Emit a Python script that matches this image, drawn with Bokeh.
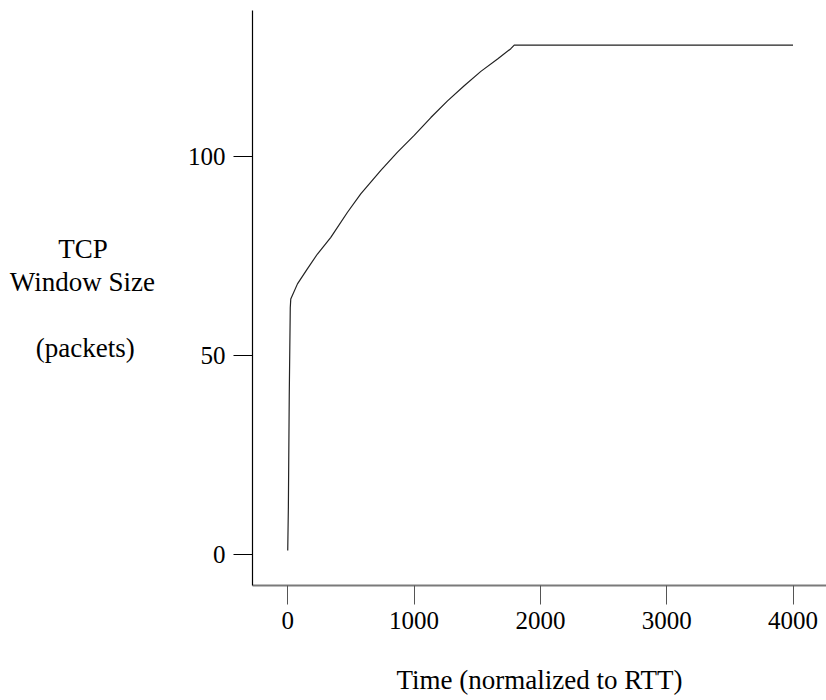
from bokeh.plotting import figure
from bokeh.models import Range1d, FixedTicker
from bokeh.embed import file_html
from bokeh.resources import INLINE

# Data
time_rtt = [0, 5, 12, 20, 24, 77, 150, 235, 341, 473, 578, 737, 869, 1001,
            1133, 1265, 1397, 1529, 1661, 1766, 1793, 4000]
window_pkts = [1, 12, 40, 62, 64.2, 68.0, 71.5, 75.5, 79.7, 86.0, 90.6, 96.5,
               101.1, 105.3, 109.8, 114.0, 117.8, 121.4, 124.5, 127.1, 128, 128]
x_ticks = [0, 1000, 2000, 3000, 4000]
y_ticks = [0, 50, 100]
NB = "\u00a0"
# lines padded with no-break spaces so they read centred under each other
y_label = "TCP" + NB * 7 + "\nWindow Size\n" + NB + "\n(packets)" + NB * 3
x_label = "Time (normalized to RTT)"

FONT = "Liberation Serif"
FS = "25px"
TFS = "27px"

p = figure(width=826, height=700, output_backend="svg", toolbar_location=None,
           x_range=Range1d(-279, 4265), y_range=Range1d(-7.8, 136.7),
           min_border_left=252, min_border_right=0, min_border_top=10,
           min_border_bottom=115)
p.outline_line_color = None
p.xgrid.visible = False
p.ygrid.visible = False
p.background_fill_color = "white"
p.border_fill_color = "white"

p.line(time_rtt, window_pkts, line_color="#222222", line_width=1.2)

# x axis
xa = p.xaxis[0]
xa.ticker = FixedTicker(ticks=x_ticks)
xa.minor_tick_line_color = None
xa.major_tick_in = 0
xa.major_tick_out = 19
xa.major_tick_line_color = "#555555"
xa.axis_line_color = "#7a7a7a"
xa.axis_line_width = 2
xa.major_label_text_font = FONT
xa.major_label_text_font_size = FS
xa.major_label_text_color = "black"
xa.major_label_standoff = 7
xa.axis_label = x_label
xa.axis_label_text_font = FONT
xa.axis_label_text_font_size = TFS
xa.axis_label_text_font_style = "normal"
xa.axis_label_text_color = "black"
xa.axis_label_standoff = 33

# y axis
ya = p.yaxis[0]
ya.ticker = FixedTicker(ticks=y_ticks)
ya.minor_tick_line_color = None
ya.major_tick_in = 0
ya.major_tick_out = 19
ya.major_tick_line_color = "black"
ya.axis_line_color = "black"
ya.axis_line_width = 1.2
ya.major_label_text_font = FONT
ya.major_label_text_font_size = FS
ya.major_label_text_color = "black"
ya.major_label_standoff = 8
ya.axis_label = y_label
ya.axis_label_text_font = FONT
ya.axis_label_text_font_size = TFS
ya.axis_label_text_font_style = "normal"
ya.axis_label_text_color = "black"
ya.axis_label_text_line_height = 1.1
ya.axis_label_standoff = 30
ya.axis_label_orientation = "horizontal"

open("out.html", "w").write(file_html(p, INLINE))
